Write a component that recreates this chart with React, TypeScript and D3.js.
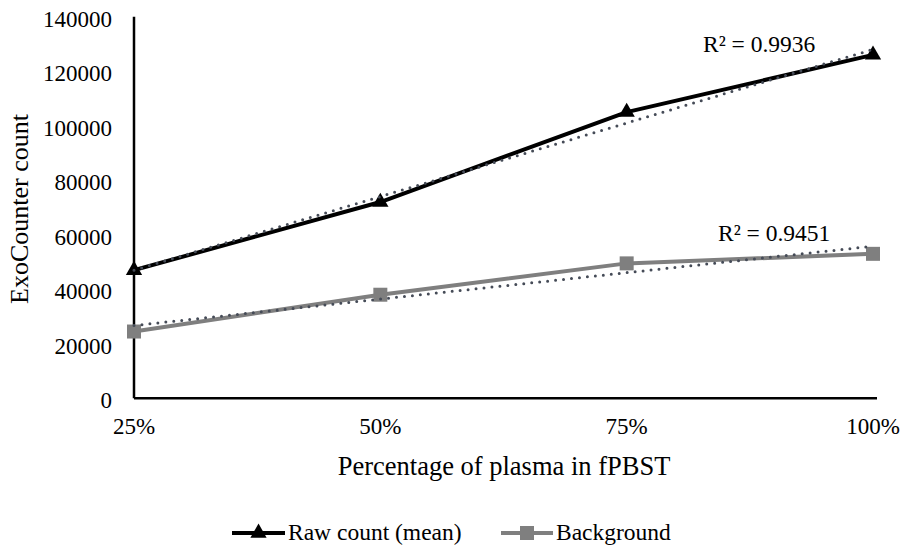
import React from "react";
import * as d3 from "d3";

// Plasma dilution levels on the x axis
const categories = ["25%", "50%", "75%", "100%"];
// Mean raw ExoCounter counts per dilution
const rawCount = [47000, 72000, 105000, 126000];
// Background counts per dilution
const background = [24500, 38000, 49500, 53000];
// Value axis ticks
const yTicks = [0, 20000, 40000, 60000, 80000, 100000, 120000, 140000];
// Coefficient of determination labels for the linear trendlines
const r2Labels = ["R² = 0.9936", "R² = 0.9451"];

const W = 903;
const H = 549;
const FONT = "'Liberation Serif', 'Times New Roman', serif";

// Ordinary least squares fit over the category index
function linearFit(values: number[]) {
  const xs = values.map((_, i) => i + 1);
  const mx = d3.mean(xs)!;
  const my = d3.mean(values)!;
  let sxy = 0;
  let sxx = 0;
  xs.forEach((x, i) => {
    sxy += (x - mx) * (values[i] - my);
    sxx += (x - mx) * (x - mx);
  });
  const slope = sxy / sxx;
  const intercept = my - slope * mx;
  return xs.map((x) => intercept + slope * x);
}

export default function App() {
  const x = d3.scalePoint<string>().domain(categories).range([134, 873]);
  const y = d3.scaleLinear().domain([0, 140000]).range([398.3, 16.7]);

  const line = d3
    .line<number>()
    .x((_, i) => x(categories[i])!)
    .y((d) => y(d));

  const series = [
    { name: "Raw count (mean)", values: rawCount, color: "#000000", marker: "triangle" },
    { name: "Background", values: background, color: "#7f7f7f", marker: "square" },
  ];

  const triangle = d3.symbol(d3.symbolTriangle, 115)()!;
  const square = d3.symbol(d3.symbolSquare, 196)()!;

  const trendColor = "#454b57";
  const rawTrend = linearFit(rawCount);
  const bgTrend = linearFit(background);
  const last = categories[categories.length - 1];

  const legendY = 533;
  const legendItems = [
    { ...series[0], x0: 232, x1: 285 },
    { ...series[1], x0: 501, x1: 553 },
  ];

  return (
    <svg
      width={W}
      height={H}
      style={{ position: "absolute", left: 0, top: 0, background: "#fff" }}
      fontFamily={FONT}
    >
      <rect width={W} height={H} fill="#fff" />

      {/* value axis labels */}
      {yTicks.map((t) => (
        <text key={t} x={112} y={y(t) + 9.8} fontSize={23} textAnchor="end" fill="#000">
          {t}
        </text>
      ))}

      {/* category axis labels */}
      {categories.map((c) => (
        <text key={c} x={x(c)!} y={434} fontSize={23} textAnchor="middle" fill="#000">
          {c}
        </text>
      ))}

      {/* axes */}
      <line x1={134} x2={134} y1={y(140000)} y2={y(0)} stroke="#000" strokeWidth={2.5} />
      <line x1={134} x2={877} y1={y(0)} y2={y(0)} stroke="#000" strokeWidth={2.5} />

      {/* axis titles */}
      <text x={504} y={475} fontSize={26.5} textAnchor="middle" fill="#000">
        Percentage of plasma in fPBST
      </text>
      <text
        transform={`translate(28, 209) rotate(-90)`}
        fontSize={26}
        textAnchor="middle"
        fill="#000"
      >
        ExoCounter count
      </text>

      {/* series lines */}
      {series.map((s) => (
        <path
          key={s.name}
          d={line(s.values)!}
          fill="none"
          stroke={s.color}
          strokeWidth={4}
          strokeLinejoin="round"
        />
      ))}

      {/* series markers */}
      {series.map((s) =>
        s.values.map((v, i) => (
          <path
            key={s.name + i}
            d={s.marker === "triangle" ? triangle : square}
            transform={`translate(${x(categories[i])}, ${y(v)})`}
            fill={s.color}
          />
        ))
      )}

      {/* linear trendlines */}
      {[rawTrend, bgTrend].map((tr, k) => (
        <path
          key={"trend" + k}
          d={line(tr)!}
          fill="none"
          stroke={trendColor}
          strokeWidth={3}
          strokeDasharray="0 8"
          strokeLinecap="round"
        />
      ))}

      {/* trendline R² labels */}
      <text x={x(last)! - 170} y={y(rawTrend[3]) + 3} fontSize={23.5} fill="#000">
        {r2Labels[0]}
      </text>
      <text x={x(last)! - 155} y={y(bgTrend[3]) - 5} fontSize={23.5} fill="#000">
        {r2Labels[1]}
      </text>

      {/* legend */}
      {legendItems.map((s) => (
        <g key={"lg" + s.name}>
          <line x1={s.x0} x2={s.x1} y1={legendY} y2={legendY} stroke={s.color} strokeWidth={4} />
          <path
            d={s.marker === "triangle" ? triangle : square}
            transform={`translate(${(s.x0 + s.x1) / 2}, ${legendY})`}
            fill={s.color}
          />
          <text x={s.x1 + 3} y={legendY + 7} fontSize={23.5} fill="#000">
            {s.name}
          </text>
        </g>
      ))}
    </svg>
  );
}
